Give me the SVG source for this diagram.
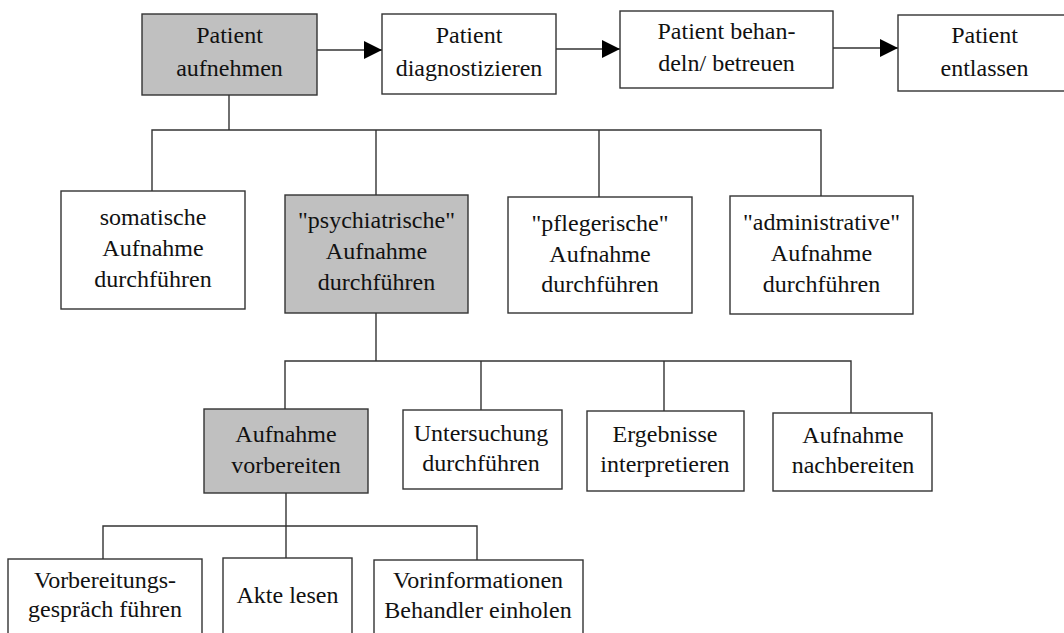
<svg xmlns="http://www.w3.org/2000/svg" width="1064" height="633" viewBox="0 0 1064 633">
<style>
.box{fill:#fff;stroke:#333;stroke-width:1.4}
.hl{fill:#c0c0c0}
.t{font-family:'Liberation Serif','DejaVu Serif',serif;font-size:24px;fill:#111;text-anchor:middle}
.c line,.c polyline{stroke:#333;stroke-width:1.4;fill:none}
</style>
<defs>
<marker id="ah" markerWidth="18" markerHeight="18" viewBox="0 0 18 18" refX="18" refY="9" markerUnits="userSpaceOnUse" orient="auto">
<path d="M0,0 L18,9 L0,18 Z" fill="#000"/>
</marker>
</defs>
<rect width="1064" height="633" fill="#fff"/>
<g class="c" id="connectors">
<line x1="317" y1="50" x2="382" y2="50" marker-end="url(#ah)"/>
<line x1="556" y1="49" x2="620" y2="49" marker-end="url(#ah)"/>
<line x1="833" y1="48" x2="898" y2="48" marker-end="url(#ah)"/>
<line x1="229" y1="95" x2="229" y2="130"/>
<polyline points="152,191 152,130 821,130 821,196"/>
<line x1="376" y1="130" x2="376" y2="195"/>
<line x1="599" y1="130" x2="599" y2="197"/>
<line x1="376" y1="313" x2="376" y2="361"/>
<polyline points="285,409 285,361 851,361 851,413"/>
<line x1="481" y1="361" x2="481" y2="410"/>
<line x1="664" y1="361" x2="664" y2="411"/>
<line x1="286" y1="493" x2="286" y2="526"/>
<polyline points="103,559 103,526 477,526 477,560"/>
<line x1="286" y1="526" x2="286" y2="558"/>
</g>
<g id="n1"><rect class="box hl" x="142" y="14" width="175" height="81"/><text class="t"><tspan x="229.5" y="43">Patient</tspan><tspan x="229.5" y="76">aufnehmen</tspan></text></g>
<g id="n2"><rect class="box" x="382" y="14" width="174" height="80"/><text class="t"><tspan x="469" y="43">Patient</tspan><tspan x="469" y="76">diagnostizieren</tspan></text></g>
<g id="n3"><rect class="box" x="620" y="11" width="213" height="77"/><text class="t"><tspan x="726.5" y="39">Patient behan-</tspan><tspan x="726.5" y="71">deln/ betreuen</tspan></text></g>
<g id="n4"><rect class="box" x="898" y="15" width="174" height="76"/><text class="t"><tspan x="984.5" y="43">Patient</tspan><tspan x="984.5" y="76">entlassen</tspan></text></g>
<g id="n5"><rect class="box" x="61" y="191" width="184" height="118"/><text class="t"><tspan x="153" y="225">somatische</tspan><tspan x="153" y="256">Aufnahme</tspan><tspan x="153" y="287">durchführen</tspan></text></g>
<g id="n6"><rect class="box hl" x="285" y="195" width="183" height="118"/><text class="t"><tspan x="376.5" y="228">"psychiatrische"</tspan><tspan x="376.5" y="259">Aufnahme</tspan><tspan x="376.5" y="290">durchführen</tspan></text></g>
<g id="n7"><rect class="box" x="508" y="197" width="184" height="116"/><text class="t"><tspan x="600" y="231">"pflegerische"</tspan><tspan x="600" y="262">Aufnahme</tspan><tspan x="600" y="292">durchführen</tspan></text></g>
<g id="n8"><rect class="box" x="730" y="196" width="183" height="118"/><text class="t"><tspan x="821.5" y="230">"administrative"</tspan><tspan x="821.5" y="261">Aufnahme</tspan><tspan x="821.5" y="292">durchführen</tspan></text></g>
<g id="n9"><rect class="box hl" x="204" y="409" width="164" height="84"/><text class="t"><tspan x="286" y="442">Aufnahme</tspan><tspan x="286" y="473">vorbereiten</tspan></text></g>
<g id="n10"><rect class="box" x="403" y="410" width="159" height="79"/><text class="t"><tspan x="481" y="441">Untersuchung</tspan><tspan x="481" y="471">durchführen</tspan></text></g>
<g id="n11"><rect class="box" x="587" y="411" width="157" height="80"/><text class="t"><tspan x="665" y="442">Ergebnisse</tspan><tspan x="665" y="472">interpretieren</tspan></text></g>
<g id="n12"><rect class="box" x="773" y="413" width="159" height="78"/><text class="t"><tspan x="853" y="443">Aufnahme</tspan><tspan x="853" y="473">nachbereiten</tspan></text></g>
<g id="n13"><rect class="box" x="8" y="559" width="194" height="90"/><text class="t"><tspan x="105" y="588">Vorbereitungs-</tspan><tspan x="105" y="617">gespräch führen</tspan></text></g>
<g id="n14"><rect class="box" x="223" y="558" width="129" height="90"/><text class="t"><tspan x="287.5" y="603">Akte lesen</tspan></text></g>
<g id="n15"><rect class="box" x="374" y="560" width="209" height="90"/><text class="t"><tspan x="478" y="588">Vorinformationen</tspan><tspan x="478" y="618">Behandler einholen</tspan></text></g>
</svg>
